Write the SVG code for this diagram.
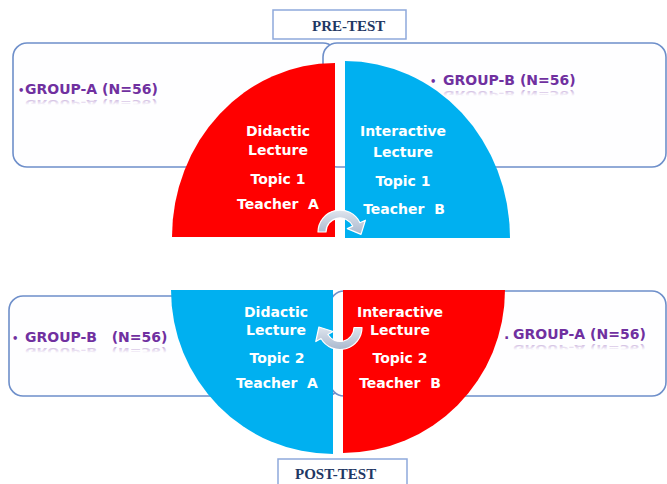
<svg xmlns="http://www.w3.org/2000/svg" width="667" height="484" viewBox="0 0 667 484">
  <defs>
    <style>
      .frame { fill: #fefeff; stroke: #6e8fca; stroke-width: 1.6; }
      .tag { fill: #ffffff; stroke: #8ea9db; stroke-width: 1.5; }
      .tagtxt { font-family: "Liberation Serif", "Times New Roman", serif; font-weight: bold; font-size: 15px; fill: #1f3864; }
      .grp { font-family: "DejaVu Sans", Verdana, sans-serif; font-weight: bold; font-size: 14px; fill: #7030a0; white-space: pre; }
      .refl { fill: url(#reflFade); }
      .blt { font-size: 10px; }
      .lbl { font-family: "DejaVu Sans", Verdana, sans-serif; font-weight: bold; font-size: 14px; fill: #ffffff; text-anchor: middle; white-space: pre; }
      .red { fill: #ff0000; }
      .blue { fill: #00b0f0; }
      .swap { fill: url(#arrowFill); stroke: #ffffff; stroke-width: 1.2; stroke-linejoin: round; }
    </style>
    <linearGradient id="reflFade" x1="0" y1="0" x2="0" y2="1">
      <stop offset="0.3" stop-color="#7030a0" stop-opacity="0"/>
      <stop offset="0.85" stop-color="#7030a0" stop-opacity="0.35"/>
    </linearGradient>
    <linearGradient id="arrowFill" x1="0" y1="0" x2="0" y2="1">
      <stop offset="0" stop-color="#dfe5ee"/>
      <stop offset="1" stop-color="#a9b8cd"/>
    </linearGradient>
  </defs>

  <rect width="667" height="484" fill="#ffffff"/>

  <!-- group frames behind the half discs; each label carries a faded mirror copy -->
  <g id="frame-pre-left">
    <rect class="frame" x="13" y="43" width="324" height="124" rx="14"/>
    <text class="grp" x="18" y="94"><tspan class="blt">•</tspan><tspan x="25">GROUP-A (N=56)</tspan></text>
    <text class="grp refl" x="25" y="0" transform="translate(0 100) scale(1 -0.6)">GROUP-A (N=56)</text>
  </g>
  <g id="frame-pre-right">
    <rect class="frame" x="323" y="43" width="343" height="124" rx="14"/>
    <text class="grp" x="430" y="85"><tspan class="blt">•</tspan><tspan x="443">GROUP-B (N=56)</tspan></text>
    <text class="grp refl" x="443" y="0" transform="translate(0 91) scale(1 -0.6)">GROUP-B (N=56)</text>
  </g>
  <g id="frame-post-left">
    <rect class="frame" x="9" y="296" width="331" height="100" rx="14"/>
    <text class="grp" x="12" y="342"><tspan class="blt">•</tspan><tspan x="25">GROUP-B   (N=56)</tspan></text>
    <text class="grp refl" x="25" y="0" transform="translate(0 348) scale(1 -0.6)">GROUP-B   (N=56)</text>
  </g>
  <g id="frame-post-right">
    <rect class="frame" x="330" y="291" width="336" height="105" rx="14"/>
    <text class="grp" x="504" y="339"><tspan>.</tspan><tspan x="513">GROUP-A (N=56)</tspan></text>
    <text class="grp refl" x="513" y="0" transform="translate(0 345) scale(1 -0.6)">GROUP-A (N=56)</text>
  </g>

  <!-- pre-test quarter discs -->
  <g id="pre-didactic">
    <path class="red" d="M335,63 A163,174 0 0 0 172,237 L335,237 Z"/>
    <text class="lbl" x="278" y="136">Didactic</text>
    <text class="lbl" x="278" y="155">Lecture</text>
    <text class="lbl" x="278" y="184">Topic 1</text>
    <text class="lbl" x="278" y="209">Teacher  A</text>
  </g>
  <g id="pre-interactive">
    <path class="blue" d="M345,61 A165,177 0 0 1 510,238 L345,238 Z"/>
    <text class="lbl" x="403" y="136">Interactive</text>
    <text class="lbl" x="403" y="157">Lecture</text>
    <text class="lbl" x="403" y="186">Topic 1</text>
    <text class="lbl" x="404" y="214">Teacher  B</text>
  </g>

  <!-- post-test quarter discs -->
  <g id="post-didactic">
    <path class="blue" d="M333,290 L333,454 A162,164 0 0 1 171,290 Z"/>
    <text class="lbl" x="276" y="317">Didactic</text>
    <text class="lbl" x="276" y="335">Lecture</text>
    <text class="lbl" x="277" y="363">Topic 2</text>
    <text class="lbl" x="277" y="388">Teacher  A</text>
  </g>
  <g id="post-interactive">
    <path class="red" d="M343,290 L505,290 A162,163 0 0 1 343,453 Z"/>
    <text class="lbl" x="400" y="317">Interactive</text>
    <text class="lbl" x="400" y="335">Lecture</text>
    <text class="lbl" x="400" y="363">Topic 2</text>
    <text class="lbl" x="400" y="388">Teacher  B</text>
  </g>

  <!-- crossover arrows -->
  <g id="connectors">
    <path class="swap" d="M318,232 A22,22 0 0 1 359.9,222.7 L365.4,220.2 L361,234.4 L347.3,228.6 L352.7,226.1 A14,14 0 0 0 326,232 Z"/>
    <path class="swap" d="M362,327.5 A22,22 0 0 1 320.95,338.5 L315.8,341.5 L318.9,327 L333.1,331.5 L327.9,334.5 A14,14 0 0 0 354,327.5 Z"/>
  </g>

  <!-- phase tags -->
  <g id="pre-test">
    <rect class="tag" x="273" y="10" width="133" height="29"/>
    <text class="tagtxt" x="312" y="31">PRE-TEST</text>
  </g>
  <g id="post-test">
    <rect class="tag" x="278" y="459" width="129" height="30"/>
    <text class="tagtxt" x="295" y="479">POST-TEST</text>
  </g>
</svg>
